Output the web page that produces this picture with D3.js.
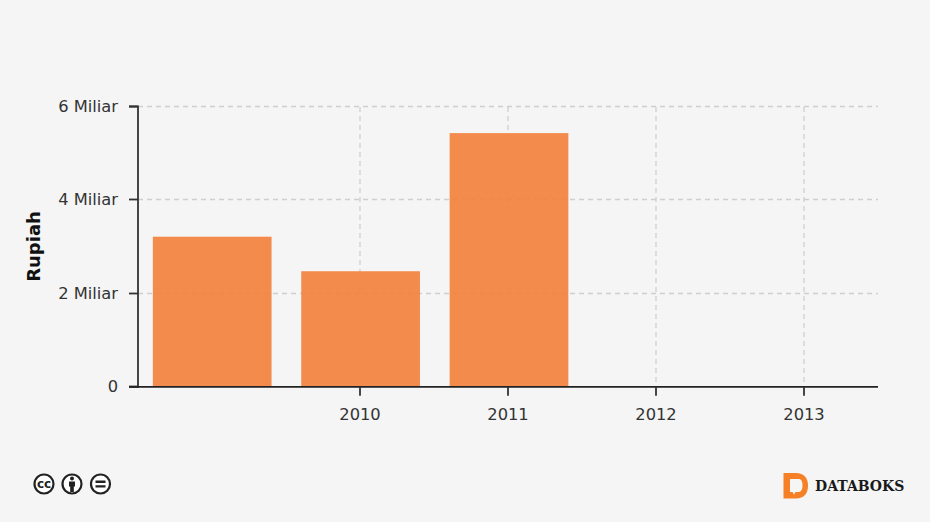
<!DOCTYPE html>
<html>
<head>
<meta charset="utf-8">
<script src="https://cdn.jsdelivr.net/npm/d3@7"></script>
<style>
  html, body { margin: 0; padding: 0; background: #f5f5f5; }
  svg { display: block; }
  text { font-family: "DejaVu Sans", sans-serif; fill: #333; }
</style>
</head>
<body>
<div id="chart"></div>
<script>
const years = ["2009", "2010", "2011", "2012", "2013"];
const values = [3.21, 2.47, 5.43, 0, 0]; // miliar rupiah
const yTicks = [0, 2, 4, 6];
const xTickYears = ["2010", "2011", "2012", "2013"];

const width = 930;
const height = 522;

const svg = d3.select("#chart").append("svg")
    .attr("width", width)
    .attr("height", height)
    .style("background", "#f5f5f5");

const x = d3.scaleBand().domain(years).range([138, 878]).paddingInner(0.2).paddingOuter(0.1);
// bars sit on a slightly wider step than the ticks in the original
const xBar = d3.scaleBand().domain(years).range([138, 880]).paddingInner(0.2).paddingOuter(0.1);
const y = d3.scaleLinear().domain([0, 6]).range([386.5, 106.5]);

const centre = d => x(d) + x.bandwidth() / 2;
const snapY = d => Math.floor(y(d)) + 0.5;

// Grid lines
svg.append("g").selectAll("line").data(yTicks.slice(1)).enter().append("line")
    .attr("x1", 138)
    .attr("x2", 878)
    .attr("y1", d => snapY(d))
    .attr("y2", d => snapY(d))
    .attr("stroke", "#cfcfcf")
    .attr("stroke-width", 1.3)
    .attr("stroke-dasharray", "5 4");

svg.append("g").selectAll("line").data(xTickYears).enter().append("line")
    .attr("x1", d => centre(d))
    .attr("x2", d => centre(d))
    .attr("y1", 107)
    .attr("y2", 387)
    .attr("stroke", "#cfcfcf")
    .attr("stroke-width", 1.3)
    .attr("stroke-dasharray", "5 4");

// Bars
svg.append("g").selectAll("rect").data(years).enter().append("rect")
    .attr("x", d => xBar(d))
    .attr("y", (d, i) => y(values[i]))
    .attr("width", xBar.bandwidth())
    .attr("height", (d, i) => y(0) - y(values[i]))
    .attr("fill", "#f37f3b")
    .attr("fill-opacity", 0.9);

// Axes
const yAxis = d3.axisLeft(y)
    .tickValues(yTicks)
    .tickSize(9)
    .tickPadding(11)
    .tickFormat(d => d === 0 ? "0" : d + " Miliar");

const xAxis = d3.axisBottom(x)
    .tickValues(xTickYears)
    .tickSize(9)
    .tickPadding(13);

const gy = svg.append("g").attr("transform", "translate(138,0)").call(yAxis);
const gx = svg.append("g").attr("transform", "translate(0,386.8)").call(xAxis);

gy.selectAll(".tick").attr("transform", d => `translate(0,${snapY(d)})`);

[gy, gx].forEach(g => {
    g.selectAll(".domain").attr("stroke", "#333").attr("stroke-width", 1.8);
    g.selectAll(".tick line").attr("stroke", "#333").attr("stroke-width", 1.8);
    g.selectAll("text").style("font-size", "16.3px").style("font-family", '"DejaVu Sans", sans-serif').attr("fill", "#333");
});
gy.selectAll("text").attr("dy", "0.35em");
gy.select(".domain").attr("d", "M-9,106.5H0V386.8H-9");
gx.select(".domain").attr("d", "M129,0H878").attr("stroke", "#222");

// Axis title
svg.append("text")
    .text("Rupiah")
    .attr("transform", "translate(40,246.5) rotate(-90)")
    .attr("text-anchor", "middle")
    .style("font-size", "18px")
    .style("font-weight", "700")
    .style("fill", "#111");

// Creative commons badges
const badges = svg.append("g").attr("fill", "none").attr("stroke", "#222");
[44, 72, 100.5].forEach(cx => {
    badges.append("circle").attr("cx", cx).attr("cy", 484).attr("r", 9.5).attr("stroke-width", 2.2).attr("fill", "#fff");
});
svg.append("text").text("cc").attr("x", 44).attr("y", 488)
    .attr("text-anchor", "middle")
    .style("font-size", "12px").style("font-weight", "700").style("fill", "#222");
svg.append("circle").attr("cx", 72).attr("cy", 478.5).attr("r", 2).attr("fill", "#222");
svg.append("path").attr("d", "M69,481.5h6v5h-1.2v5.5h-3.6v-5.5h-1.2z").attr("fill", "#222");
svg.append("path").attr("d", "M95.5,480.5h10v2.4h-10zM95.5,485.2h10v2.4h-10z").attr("fill", "#222");

// Databoks logo
svg.append("path")
    .attr("d", "M783.5,473h12.5c8,0 12,5 12,12.5c0,8 -4,13 -12,13h-12.5z M790,479v13h2.5l1.5,2.5l1.5,-2.5h3c3,0 4,-3 4,-6.5c0,-4 -1,-6.5 -4,-6.5z")
    .attr("fill", "#f58026")
    .attr("fill-rule", "evenodd");
svg.append("text")
    .text("DATABOKS")
    .attr("x", 815)
    .attr("y", 491)
    .style("font-family", '"DejaVu Serif", serif')
    .style("font-size", "14px")
    .style("font-weight", "700")
    .style("fill", "#1a1a1a");
</script>
</body>
</html>
